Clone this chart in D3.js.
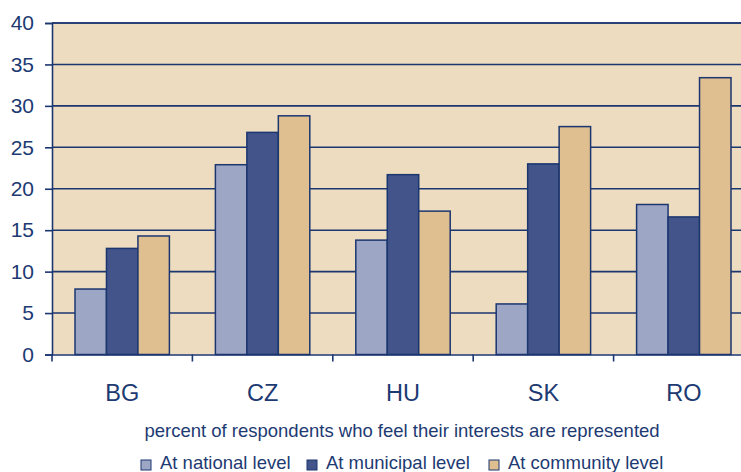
<!DOCTYPE html>
<html>
<head>
<meta charset="utf-8">
<script src="https://cdn.jsdelivr.net/npm/d3@7"></script>
<style>
  html, body { margin: 0; padding: 0; background: #ffffff; overflow: hidden; }
  svg { display: block; font-family: "Liberation Sans", Arial, sans-serif; }
</style>
</head>
<body>
<svg id="chart" width="741" height="472"></svg>
<script>
// Countries and survey results (percent)
const countries = ["BG", "CZ", "HU", "SK", "RO"];
const seriesNames = ["At national level", "At municipal level", "At community level"];
const nationalLevel  = [7.9, 22.9, 13.8, 6.1, 18.1];
const municipalLevel = [12.8, 26.8, 21.7, 23.0, 16.6];
const communityLevel = [14.3, 28.8, 17.3, 27.5, 33.4];
const yTicks = [0, 5, 10, 15, 20, 25, 30, 35, 40];
const axisTitle = "percent of respondents who feel their interests are represented";

const seriesValues = [nationalLevel, municipalLevel, communityLevel];
const colors = ["#9ea6c6", "#42548a", "#dfbf8f"];
const navy = "#1c3670";
const textColor = "#1d3a72";

const svg = d3.select("#chart");
const margin = { left: 52, top: 23 };
const plotW = 702, plotH = 331.5;

const g = svg.append("g").attr("transform", `translate(${margin.left},${margin.top})`);

const x0 = d3.scaleBand().domain(countries).range([0, plotW]).paddingInner(0).paddingOuter(0);
const groupPad = 23;
const x1 = d3.scaleBand().domain(d3.range(seriesNames.length))
  .range([groupPad, x0.bandwidth() - groupPad]).padding(0);
const y = d3.scaleLinear().domain([0, 40]).range([plotH, 0]);

// Plot background
g.append("rect").attr("x", 0).attr("y", 0).attr("width", plotW).attr("height", plotH)
  .attr("fill", "#eddcbf");

// Horizontal gridlines
g.append("g").selectAll("line").data(yTicks.filter(t => t > 0)).join("line")
  .attr("x1", 0).attr("x2", plotW)
  .attr("y1", d => y(d)).attr("y2", d => y(d))
  .attr("stroke", navy).attr("stroke-width", 1.6);

// Bars
const rows = countries.map((c, i) => ({ c, vals: seriesValues.map(s => s[i]) }));
g.append("g").selectAll("g").data(rows).join("g")
  .attr("transform", d => `translate(${x0(d.c)},0)`)
  .selectAll("rect").data(d => d.vals.map((v, k) => ({ v, k }))).join("rect")
  .attr("x", d => x1(d.k)).attr("width", x1.bandwidth())
  .attr("y", d => y(d.v)).attr("height", d => y(0) - y(d.v))
  .attr("fill", d => colors[d.k])
  .attr("stroke", navy).attr("stroke-width", 1.5);

// Y axis
const yAxis = g.append("g").call(d3.axisLeft(y).tickValues(yTicks).tickSize(7).tickPadding(11));
yAxis.select(".domain").attr("stroke", navy).attr("stroke-width", 1.6);
yAxis.selectAll(".tick line").attr("stroke", navy).attr("stroke-width", 1.6);
yAxis.selectAll(".tick text").attr("fill", textColor).attr("font-size", 21)
  .attr("font-family", "Liberation Sans, Arial, sans-serif");

// X axis with ticks between categories
const xAxis = g.append("g").attr("transform", `translate(0,${plotH})`)
  .call(d3.axisBottom(x0).tickSize(0).tickPadding(30));
xAxis.select(".domain").attr("stroke", navy).attr("stroke-width", 1.6);
xAxis.selectAll(".tick text").attr("fill", textColor).attr("font-size", 23.5)
  .attr("font-family", "Liberation Sans, Arial, sans-serif");
xAxis.append("g").selectAll("line").data(countries).join("line")
  .attr("x1", d => x0(d)).attr("x2", d => x0(d))
  .attr("y1", 0).attr("y2", 7)
  .attr("stroke", navy).attr("stroke-width", 1.6);

// Top frame line
g.append("line").attr("x1", 0).attr("x2", plotW).attr("y1", 0).attr("y2", 0)
  .attr("stroke", navy).attr("stroke-width", 1.6);

// Axis title
svg.append("text").attr("x", 402).attr("y", 437).attr("text-anchor", "middle")
  .attr("fill", textColor).attr("font-size", 18.5).text(axisTitle);

// Legend
const legendX = [141, 307, 489];
const legend = svg.append("g").selectAll("g").data(seriesNames).join("g")
  .attr("transform", (d, i) => `translate(${legendX[i]},0)`);
legend.append("rect").attr("x", 0).attr("y", 460).attr("width", 10).attr("height", 10)
  .attr("fill", (d, i) => colors[i]).attr("stroke", navy).attr("stroke-width", 1);
legend.append("text").attr("x", 19).attr("y", 468.5)
  .attr("fill", textColor).attr("font-size", 18.5).text(d => d);
</script>
</body>
</html>
